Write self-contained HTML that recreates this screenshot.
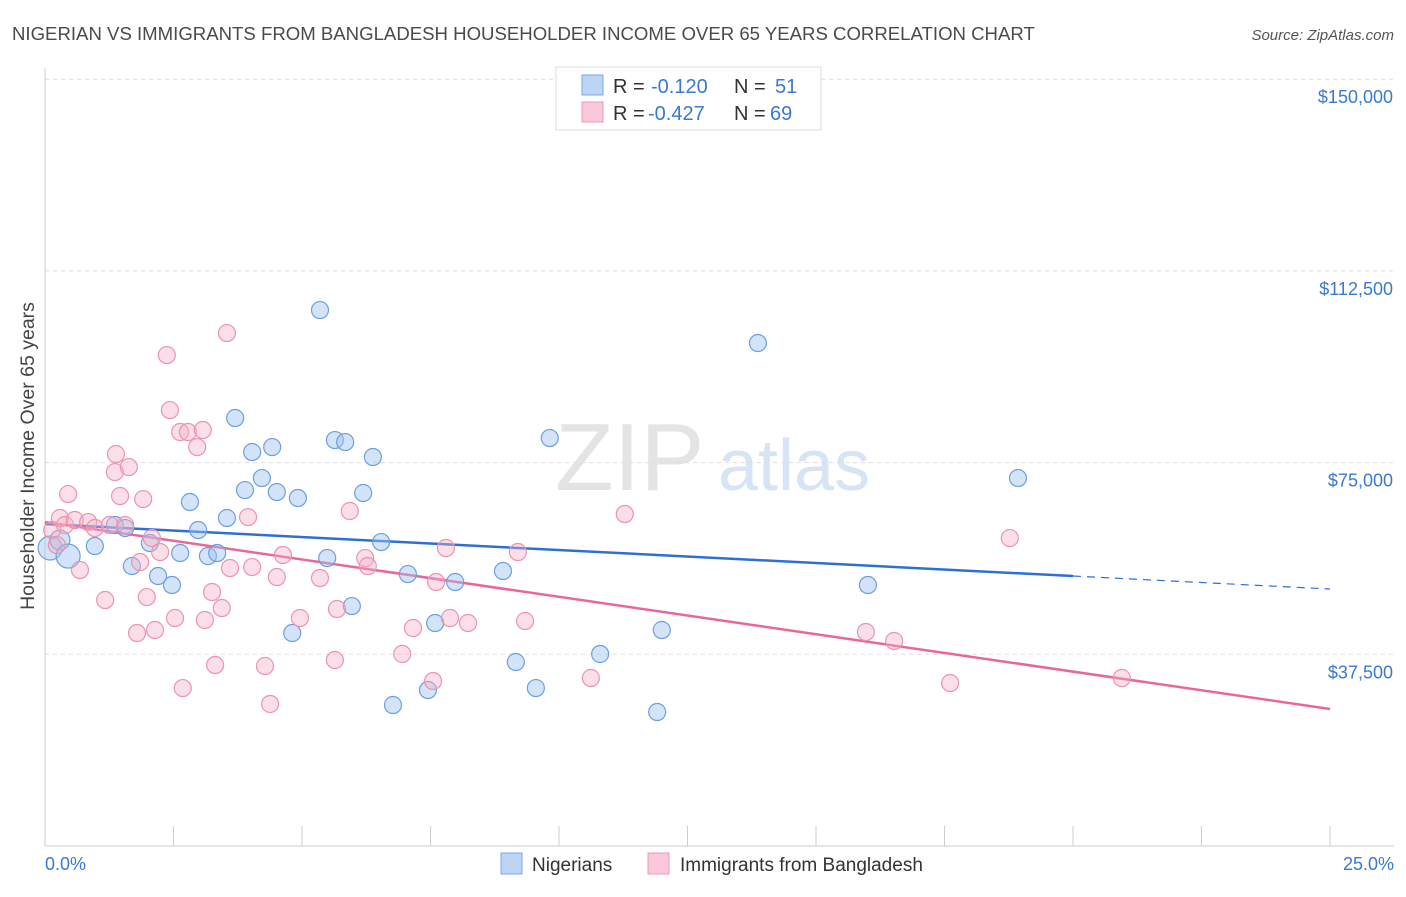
<!DOCTYPE html>
<html><head><meta charset="utf-8"><style>
body{margin:0;background:#fff;font-family:"Liberation Sans",sans-serif;}
svg text{font-family:"Liberation Sans",sans-serif;}
</style></head><body>
<svg id="chart" width="1406" height="892" xmlns="http://www.w3.org/2000/svg">
<text x="12" y="40" font-size="18.6" fill="#4a4a4a">NIGERIAN VS IMMIGRANTS FROM BANGLADESH HOUSEHOLDER INCOME OVER 65 YEARS CORRELATION CHART</text>
<text x="1394" y="40" font-size="15" fill="#555" text-anchor="end" font-style="italic">Source: ZipAtlas.com</text>
<text x="555" y="490" font-size="96" fill="#e4e4e4" font-family="Liberation Serif">ZIP</text>
<text x="718" y="490" font-size="72" fill="#d6e4f5">atlas</text>
<g id="grid"></g>
<g id="axes"></g>
<g id="lines"></g>
<g id="pts"></g>
<text transform="translate(34,456) rotate(-90)" font-size="19.5" fill="#444" text-anchor="middle">Householder Income Over 65 years</text>
<text x="45" y="870" font-size="18" fill="#3a78d4">0.0%</text>
<text x="1394" y="870" font-size="18" fill="#3a78d4" text-anchor="end">25.0%</text>
<g>
<rect x="556" y="67" width="265" height="63" fill="#fff" stroke="#ddd"/>
<rect x="582" y="75" width="21" height="20" fill="#bcd5f5" stroke="#7aa8e6"/>
<rect x="582" y="102" width="21" height="20" fill="#fbc8d7" stroke="#ee9ab4"/>
<text x="613" y="93" font-size="20" fill="#333">R = </text><text x="651" y="93" font-size="20" fill="#3a78d4">-0.120</text>
<text x="734" y="93" font-size="20" fill="#333">N = </text><text x="775" y="93" font-size="20" fill="#3a78d4">51</text>
<text x="613" y="120" font-size="20" fill="#333">R = </text><text x="648" y="120" font-size="20" fill="#3a78d4">-0.427</text>
<text x="734" y="120" font-size="20" fill="#333">N = </text><text x="770" y="120" font-size="20" fill="#3a78d4">69</text>
</g>
<g>
<rect x="501" y="853" width="21" height="21" fill="#bcd5f5" stroke="#7aa8e6"/>
<text x="532" y="871" font-size="19" fill="#333">Nigerians</text>
<rect x="648" y="853" width="21" height="21" fill="#fbc8d7" stroke="#ee9ab4"/>
<text x="680" y="871" font-size="19" fill="#333">Immigrants from Bangladesh</text>
</g>
</svg>
<script>
const yTicks=[37500,75000,112500,150000];
const yTickLabels=["$37,500","$75,000","$112,500","$150,000"];
const xTicks=[0,2.5,5,7.5,10,12.5,15,17.5,20,22.5,25];
const blueX=[0.10,0.29,0.45,0.97,1.36,1.56,1.69,2.04,2.20,2.47,2.63,2.82,2.98,3.17,3.35,3.54,3.70,3.89,4.03,4.22,4.42,4.51,4.81,4.92,5.35,5.49,5.64,5.84,5.97,6.19,6.38,6.54,6.77,7.06,7.45,7.59,7.98,8.91,9.16,9.55,9.82,10.80,11.91,12.00,13.87,16.01,18.93];
const blueY=[58290,59850,56720,58680,62790,62200,54770,59270,52810,51050,57310,67290,61810,56720,57310,64160,83720,69630,77070,71980,78040,69240,41660,68070,104840,56330,79410,79020,46940,69050,76090,59460,27580,53200,30510,43620,51640,53790,35990,30900,79800,37560,26210,42250,98390,51050,71980];
const pinkX=[0.14,0.23,0.29,0.39,0.45,0.58,0.68,0.84,0.97,1.17,1.26,1.36,1.38,1.46,1.56,1.63,1.79,1.85,1.91,1.98,2.08,2.14,2.24,2.37,2.43,2.53,2.63,2.68,2.78,2.96,3.07,3.11,3.25,3.31,3.44,3.54,3.60,3.95,4.03,4.28,4.38,4.51,4.63,4.96,5.35,5.64,5.68,5.93,6.23,6.28,6.95,7.16,7.55,7.61,7.80,7.88,8.23,9.20,9.34,10.62,11.28,15.97,16.52,17.61,18.77,20.95];
const pinkY=[61810,58880,64160,62790,68850,63770,53990,63370,62200,48120,62790,73150,76680,68460,62790,74130,41660,55550,67870,48700,60240,42250,57510,96040,85280,44600,80980,30900,80980,78040,81370,44210,49680,35400,46550,100340,54380,64350,54570,35210,27780,52620,56920,44600,52420,36380,46360,65530,56330,54770,37560,42640,32270,51640,58290,44600,43620,57510,44010,32860,64940,41860,40100,31880,60240,32860];
const blueTrend=[62980,52810,50270];
const pinkTrend=[63370,26800];
const NS="http://www.w3.org/2000/svg";
const sx=v=>45+v/25*1285;
const sy=v=>846-v/37500*191.7;
function mk(tag,attrs,parent){const e=document.createElementNS(NS,tag);for(const k in attrs)e.setAttribute(k,attrs[k]);document.getElementById(parent).appendChild(e);return e;}
yTicks.forEach((t,i)=>{
 const g=mk('line',{x1:45,x2:1394,y1:sy(t),y2:sy(t),stroke:'#ddd','stroke-dasharray':'4,4'},'grid');
 
 
 const l=mk('text',{x:1393,y:sy(t)+24,'font-size':18,fill:'#3a78d4','text-anchor':'end'},'grid');
 l.textContent=yTickLabels[i];
 
 
});
const ya=mk('line',{x1:45,x2:45,y1:68,y2:846,stroke:'#ccc'},'axes');


const xa=mk('line',{x1:45,x2:1394,y1:846,y2:846,stroke:'#ccc'},'axes');


xTicks.forEach(t=>{
 const e=mk('line',{x1:sx(t),x2:sx(t),y1:826,y2:846,stroke:'#ccc'},'axes');
 
 
});
let e=mk('line',{x1:sx(0),y1:sy(blueTrend[0]),x2:sx(20),y2:sy(blueTrend[1]),stroke:'#2f6fd4','stroke-width':2.5},'lines');


e=mk('line',{x1:sx(20),y1:sy(blueTrend[1]),x2:sx(25),y2:sy(blueTrend[2]),stroke:'#2f6fd4','stroke-width':1.2,'stroke-dasharray':'8,6'},'lines');


e=mk('line',{x1:sx(0),y1:sy(pinkTrend[0]),x2:sx(25),y2:sy(pinkTrend[1]),stroke:'#e8679a','stroke-width':2.5},'lines');


blueX.forEach((x,i)=>{
 const c=mk('circle',{cx:sx(x),cy:sy(blueY[i]),r:i<3?(i==1?10:12):8.5,fill:'rgba(160,195,240,0.45)',stroke:'#6b9fe0','stroke-width':1.2},'pts');
 
 
});
pinkX.forEach((x,i)=>{
 const c=mk('circle',{cx:sx(x),cy:sy(pinkY[i]),r:8.5,fill:'rgba(245,175,198,0.4)',stroke:'#ec93b0','stroke-width':1.2},'pts');
 
 
});
</script>
</body></html>
